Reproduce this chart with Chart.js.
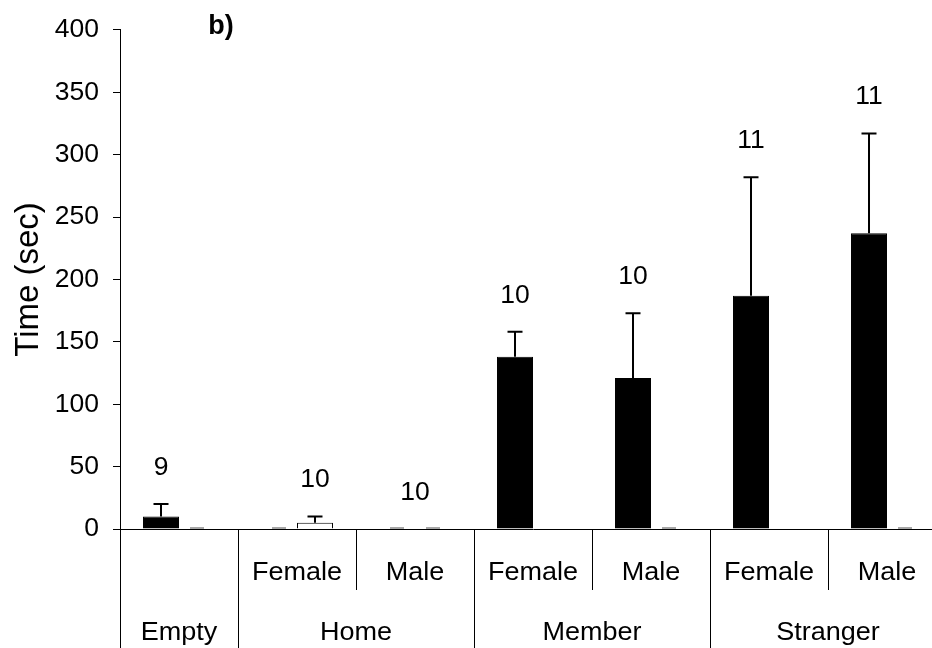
<!DOCTYPE html>
<html>
<head>
<meta charset="utf-8">
<style>
html,body{margin:0;padding:0;background:#fff;overflow:hidden;width:932px;height:648px}
#wrap{position:absolute;left:0;top:0;width:950px;height:648px}
</style>
<script src="https://cdn.jsdelivr.net/npm/chart.js@4.4.1/dist/chart.umd.min.js"></script>
</head>
<body>
<div id="wrap"><canvas id="c" width="950" height="648"></canvas></div>
<script>
// ---- data ----
const categories = ['Empty', 'Home Female', 'Home Male', 'Member Female', 'Member Male', 'Stranger Female', 'Stranger Male'];
const subLabels = ['', 'Female', 'Male', 'Female', 'Male', 'Female', 'Male'];
const groupLabels = ['Empty', 'Home', 'Member', 'Stranger'];
const groupSpans = [1, 2, 2, 2];
const blackValues = [10, 0, 0, 138, 121, 187, 237];
const blackErrors = [10, 0, 0, 20, 52, 95, 80];
const whiteValues = [0, 5, 0, null, 0, null, 0];
const whiteErrors = [0, 5, 0, 0, 0, 0, 0];
const sampleSizes = [9, 10, 10, 10, 10, 11, 11];
const yMin = 0, yMax = 400, yStep = 50;
const yTitle = 'Time (sec)';
const panelLabel = 'b)';

const FONT = '"Liberation Sans", Arial, sans-serif';
Chart.defaults.font.family = FONT;
Chart.defaults.color = '#000';

const errorSets = [blackErrors, whiteErrors];

function stretchedText(ctx, text, x, y, sx) {
  ctx.save();
  ctx.translate(x, y);
  ctx.scale(sx, 1);
  ctx.fillText(text, 0, 0);
  ctx.restore();
}

const overlay = {
  id: 'overlay',
  afterDatasetsDraw(chart) {
    const ctx = chart.ctx;
    const ys = chart.scales.y;
    const xs = chart.scales.x;
    const base = ys.getPixelForValue(0);
    ctx.save();
    // zero-value bar dashes and error bars
    chart.data.datasets.forEach((ds, di) => {
      const meta = chart.getDatasetMeta(di);
      meta.data.forEach((bar, i) => {
        const v = ds.data[i];
        if (v === null || v === undefined) return;
        if (v === 0) {
          ctx.strokeStyle = '#8a8a8a';
          ctx.lineWidth = 1.5;
          ctx.beginPath();
          ctx.moveTo(bar.x - 7, base - 1);
          ctx.lineTo(bar.x + 7, base - 1);
          ctx.stroke();
        }
        const e = errorSets[di][i];
        if (e > 0) {
          const y0 = ys.getPixelForValue(v);
          const y1 = ys.getPixelForValue(v + e);
          ctx.strokeStyle = '#000';
          ctx.lineWidth = 2;
          ctx.beginPath();
          ctx.moveTo(bar.x, y0);
          ctx.lineTo(bar.x, y1);
          ctx.moveTo(bar.x - 7.5, y1);
          ctx.lineTo(bar.x + 7.5, y1);
          ctx.stroke();
        }
      });
    });
    // sample size labels
    const m0 = chart.getDatasetMeta(0), m1 = chart.getDatasetMeta(1);
    ctx.fillStyle = '#000';
    ctx.font = '25px ' + FONT;
    ctx.textAlign = 'center';
    ctx.textBaseline = 'middle';
    sampleSizes.forEach((n, i) => {
      const t0 = (blackValues[i] || 0) + blackErrors[i];
      const t1 = (whiteValues[i] || 0) + whiteErrors[i];
      let x, top;
      if (t0 > t1) { x = m0.data[i].x; top = t0; }
      else if (t1 > t0) { x = m1.data[i].x; top = t1; }
      else { x = xs.getPixelForValue(i); top = t0; }
      stretchedText(ctx, String(n), x, ys.getPixelForValue(top) - 36, 1.06);
    });
    // category table under the axis
    const w = (xs.right - xs.left) / categories.length;
    const bottom = chart.height;
    const minorBottom = base + 61;
    ctx.strokeStyle = '#000';
    ctx.lineWidth = 1;
    const groupStarts = [];
    let acc = 0;
    groupSpans.forEach(s => { groupStarts.push(acc); acc += s; });
    for (let k = 0; k <= categories.length; k++) {
      const px = Math.round(xs.left + k * w) + 0.5;
      const major = groupStarts.includes(k) || k === categories.length;
      ctx.beginPath();
      ctx.moveTo(px, base);
      ctx.lineTo(px, major ? bottom : minorBottom);
      ctx.stroke();
    }
    ctx.fillStyle = '#000';
    ctx.font = '25.5px ' + FONT;
    subLabels.forEach((t, i) => {
      if (t) stretchedText(ctx, t, xs.getPixelForValue(i), base + 44, 1.06);
    });
    groupLabels.forEach((t, g) => {
      const cx = xs.left + (groupStarts[g] + groupSpans[g] / 2) * w;
      stretchedText(ctx, t, cx, base + 104, 1.06);
    });
    // panel label
    ctx.font = 'bold 27px ' + FONT;
    ctx.fillText(panelLabel, 221, 27);
    ctx.restore();
  }
};

new Chart(document.getElementById('c'), {
  type: 'bar',
  data: {
    labels: categories,
    datasets: [
      { data: blackValues, backgroundColor: '#000', borderColor: '#000', borderWidth: 1 },
      { data: whiteValues, backgroundColor: '#fff', borderColor: '#000', borderWidth: 1 }
    ]
  },
  options: {
    responsive: false,
    animation: false,
    devicePixelRatio: 1,
    layout: { padding: { left: 0, right: 4, top: 25, bottom: 119 } },
    plugins: { legend: { display: false }, tooltip: { enabled: false } },
    datasets: { bar: { categoryPercentage: 0.61, barPercentage: 1.0 } },
    scales: {
      x: {
        ticks: { display: false },
        grid: { display: false },
        border: { display: true, color: '#000', width: 1 },
        afterFit(s) { s.height = 0; }
      },
      y: {
        min: yMin, max: yMax,
        ticks: { stepSize: yStep, font: { size: 26.5 }, color: '#000', padding: 14 },
        grid: { display: true, drawOnChartArea: false, drawTicks: true, tickLength: 7, color: '#000' },
        border: { display: true, color: '#000', width: 1 },
        title: { display: true, text: yTitle, font: { size: 33 }, color: '#000', padding: { top: 9, bottom: 0 } },
        afterFit(s) { s.width = 120; }
      }
    }
  },
  plugins: [overlay]
});
</script>
</body>
</html>
